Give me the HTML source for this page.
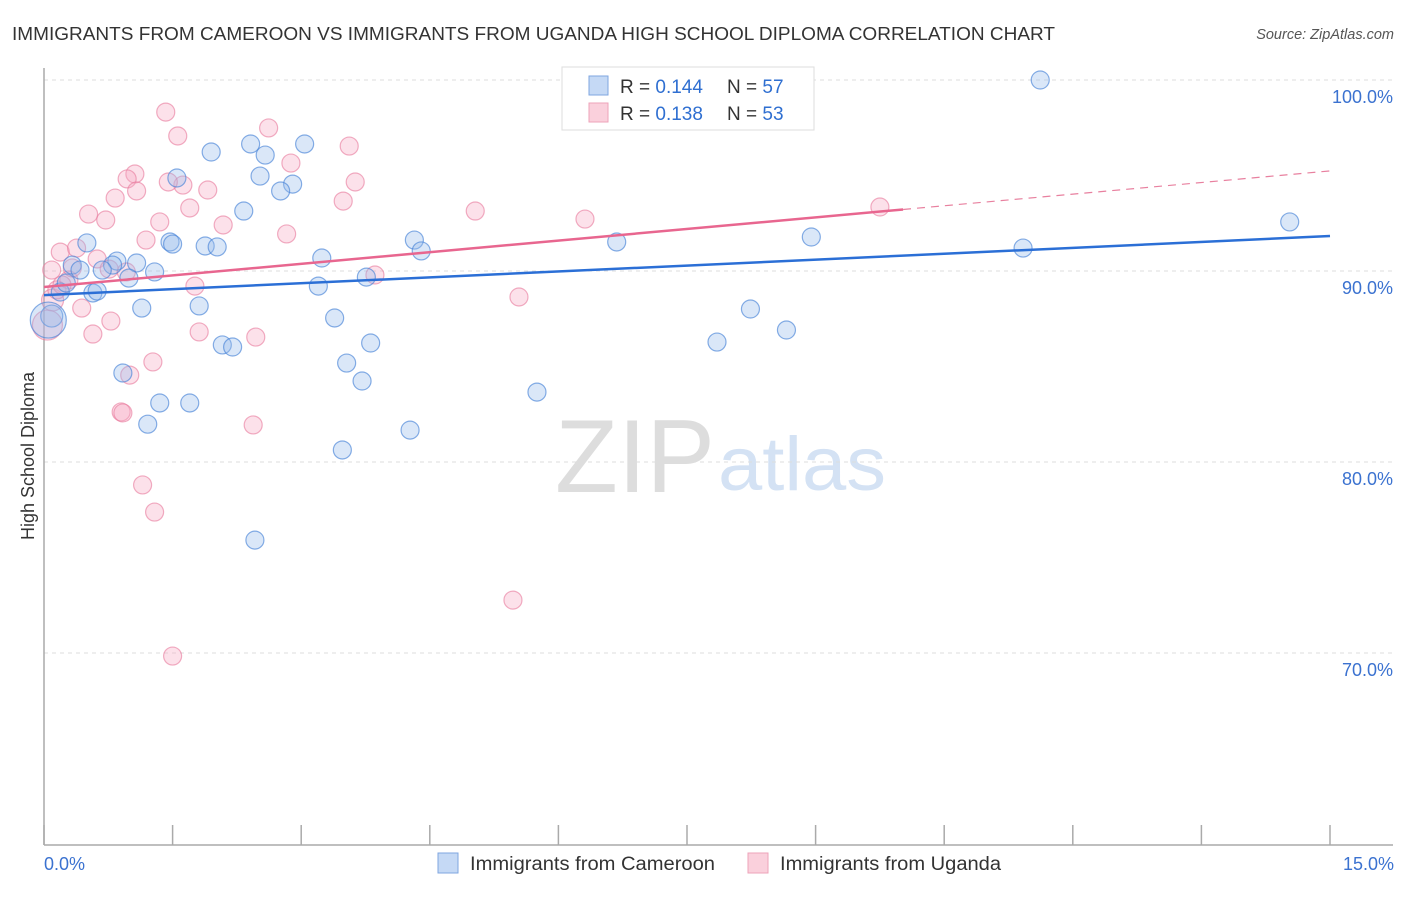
<!DOCTYPE html>
<html><head><meta charset="utf-8"><style>
body{margin:0;background:#fff;font-family:"Liberation Sans",sans-serif;}
svg text{font-family:"Liberation Sans",sans-serif;}
</style></head><body>
<svg id="c" width="1406" height="892">
<text x="12" y="40" font-size="18" fill="#333" textLength="1043" lengthAdjust="spacingAndGlyphs">IMMIGRANTS FROM CAMEROON VS IMMIGRANTS FROM UGANDA HIGH SCHOOL DIPLOMA CORRELATION CHART</text>
<text x="1394" y="39" font-size="14.5" fill="#555" font-style="italic" text-anchor="end">Source: ZipAtlas.com</text>
<text x="555" y="492" font-size="104" fill="#ddd" textLength="160" lengthAdjust="spacingAndGlyphs" font-family="Liberation Serif">ZIP</text>
<text x="718" y="490" font-size="76" fill="#d4e2f4" textLength="168" lengthAdjust="spacingAndGlyphs">atlas</text>
<text transform="translate(34,456) rotate(-90)" font-size="18" fill="#333" text-anchor="middle">High School Diploma</text>
<g id="grid"></g><g id="pts"></g><g id="lines"></g>
<g>
<rect x="562" y="67" width="252" height="63" fill="#fff" stroke="#ddd"/>
<rect x="589" y="76" width="19" height="19" fill="#c5d9f5" stroke="#7fa6e0"/>
<rect x="589" y="103" width="19" height="19" fill="#fad0dc" stroke="#eea3ba"/>
<text x="620" y="93" font-size="19" fill="#333">R = <tspan fill="#2f6fd1">0.144</tspan><tspan x="727">N = </tspan><tspan fill="#2f6fd1">57</tspan></text>
<text x="620" y="120" font-size="19" fill="#333">R = <tspan fill="#2f6fd1">0.138</tspan><tspan x="727">N = </tspan><tspan fill="#2f6fd1">53</tspan></text>
</g>
<g>
<rect x="438" y="853" width="20" height="20" fill="#c5d9f5" stroke="#7fa6e0"/>
<text x="470" y="870" font-size="19" fill="#333" textLength="245" lengthAdjust="spacingAndGlyphs">Immigrants from Cameroon</text>
<rect x="748" y="853" width="20" height="20" fill="#fad0dc" stroke="#eea3ba"/>
<text x="780" y="870" font-size="19" fill="#333" textLength="221" lengthAdjust="spacingAndGlyphs">Immigrants from Uganda</text>
</g>
</svg>
<script>
const xTicks=[0,15];
const yTicks=[100,90,80,70];
const blueX=[11.62,14.53,8.95,11.42,6.68,8.24,8.66,7.85,5.75,4.27,3.48,2.46,3.04,2.41,2.58,1.95,2.52,2.90,2.76,1.55,2.33,1.47,1.50,1.88,2.02,3.24,3.20,3.76,4.32,4.40,3.39,3.81,3.53,3.71,2.08,2.20,1.81,1.14,1.29,1.08,0.85,0.80,0.68,0.99,0.50,0.33,0.42,0.19,0.57,0.62,0.26,0.09,0.05,0.92,1.35,1.70,1.21];
const blueY=[100.0,92.57,91.78,91.20,91.52,88.01,86.91,86.28,83.66,81.67,80.63,75.91,96.65,96.65,96.07,96.23,94.97,94.55,94.19,94.87,93.14,91.52,91.41,91.31,91.26,90.68,89.21,89.68,91.62,91.05,87.54,86.23,85.18,84.24,86.13,86.02,88.17,88.06,89.95,90.42,90.52,90.31,90.05,89.63,91.47,90.31,90.05,88.90,88.85,88.95,89.37,87.64,87.43,84.66,83.09,83.09,81.98];
const blueR=[9,9,9,9,9,9,9,9,9,9,9,9,9,9,9,9,9,9,9,9,9,9,9,9,9,9,9,9,9,9,9,9,9,9,9,9,9,9,9,9,9,9,9,9,9,9,9,9,9,9,9,11,18,9,9,9,9];
const pinkX=[1.42,1.56,2.62,3.56,2.88,3.63,3.49,5.03,6.31,9.75,1.06,0.97,1.08,1.62,1.45,1.91,1.70,1.35,0.83,0.72,0.52,2.09,2.83,1.19,0.19,0.38,0.09,0.29,0.62,0.76,0.96,3.86,5.54,1.76,0.44,0.78,0.57,1.81,2.47,0.10,0.04,1.27,1.00,0.90,0.92,2.44,1.15,1.29,5.47,1.50,0.15,0.21,0.33];
const pinkY=[98.32,97.07,97.49,96.54,95.65,94.66,93.66,93.14,92.72,93.35,95.08,94.82,94.19,94.50,94.66,94.24,93.30,92.57,93.82,92.67,92.98,92.41,91.94,91.62,90.99,91.20,90.05,89.53,90.63,90.10,89.95,89.79,88.64,89.21,88.06,87.38,86.70,86.81,86.54,88.48,87.17,85.24,84.55,82.62,82.57,81.94,78.80,77.38,72.77,69.84,89.01,89.27,90.16];
const pinkR=[9,9,9,9,9,9,9,9,9,9,9,9,9,9,9,9,9,9,9,9,9,9,9,9,9,9,9,9,9,9,9,9,9,9,9,9,9,9,9,11,15,9,9,9,9,9,9,9,9,9,9,9,9];
const blueTrend=[88.74,91.83];
const pinkTrend=[89.16,95.24];
const pinkSolidEnd=10.02;
const NS='http://www.w3.org/2000/svg';
const X=v=>44+v*(1286/15);
const Y=v=>80+(100-v)*19.1;
function mk(tag,attrs,parent){const e=document.createElementNS(NS,tag);for(const k in attrs)e.setAttribute(k,attrs[k]);parent.appendChild(e);return e;}
const grid=document.getElementById('grid'),pts=document.getElementById('pts'),lines=document.getElementById('lines');
yTicks.forEach(t=>{
 const l=mk('line',{x1:44,x2:1393,y1:Y(t),y2:Y(t),stroke:'#ddd','stroke-dasharray':'4,4'},grid);
 
 
 const tx=mk('text',{x:1393,y:Y(t)+23,'font-size':18,fill:'#3b72d0','text-anchor':'end'},grid);
 tx.textContent=t.toFixed(1)+'%';
 
 
});
const ax=mk('line',{x1:44,x2:44,y1:68,y2:845,stroke:'#aaa','stroke-width':1.5},grid);


const bx=mk('line',{x1:44,x2:1393,y1:845,y2:845,stroke:'#aaa','stroke-width':1.5},grid);


for(let i=0;i<=10;i++){const v=i*1.5;const t=mk('line',{x1:X(v),x2:X(v),y1:825,y2:845,stroke:'#aaa','stroke-width':1.5},grid);
 
 }
xTicks.forEach((t,i)=>{const tx=mk('text',{x:i?1394:44,y:870,'font-size':18,fill:'#3b72d0','text-anchor':i?'end':'start'},grid);
 tx.textContent=t.toFixed(1)+'%';
 
 });
pinkX.forEach((v,i)=>{const c=mk('circle',{cx:X(v),cy:Y(pinkY[i]),r:pinkR[i],fill:'rgba(246,170,195,0.35)',stroke:'rgba(232,120,155,0.6)','stroke-width':1.2},pts);
 
 });
blueX.forEach((v,i)=>{const c=mk('circle',{cx:X(v),cy:Y(blueY[i]),r:blueR[i],fill:'rgba(150,185,235,0.35)',stroke:'rgba(70,130,215,0.65)','stroke-width':1.2},pts);
 
 });
const bl=mk('line',{x1:X(0),y1:Y(blueTrend[0]),x2:X(15),y2:Y(blueTrend[1]),stroke:'#2b6fd6','stroke-width':2.5},lines);


const pAt=x=>pinkTrend[0]+(pinkTrend[1]-pinkTrend[0])*x/15;
const pl=mk('line',{x1:X(0),y1:Y(pAt(0)),x2:X(pinkSolidEnd),y2:Y(pAt(pinkSolidEnd)),stroke:'#e8668f','stroke-width':2.5},lines);


const pd=mk('line',{x1:X(pinkSolidEnd),y1:Y(pAt(pinkSolidEnd)),x2:X(15),y2:Y(pAt(15)),stroke:'#e8809f','stroke-width':1.2,'stroke-dasharray':'8,6'},lines);


</script>
</body></html>
